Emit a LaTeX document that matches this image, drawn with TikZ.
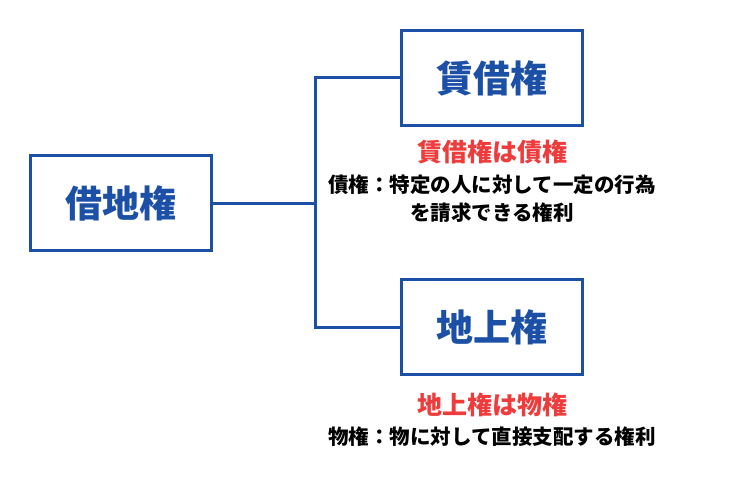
\documentclass[tikz,border=0pt]{standalone}
\usepackage{fontspec}
\setmainfont{Noto Sans CJK JP}
\usetikzlibrary{positioning}
\definecolor{boxblue}{HTML}{1C50A6}
\definecolor{keyred}{HTML}{EE3B3B}
\begin{document}
\begin{tikzpicture}[x=1pt,y=-1pt,
    boxstyle/.style={draw=boxblue, line width=3pt, minimum width=181pt, minimum height=95pt,
        font=\fontsize{37}{40}\selectfont\bfseries, text=boxblue},
    keystyle/.style={font=\fontsize{25}{28}\selectfont\bfseries, text=keyred},
    notestyle/.style={font=\fontsize{20.5}{28}\selectfont\bfseries, align=center, inner sep=0pt},
    linkstyle/.style={draw=boxblue, line width=3pt}
]
\useasboundingbox (0,0) rectangle (750,500);

% Boxes
\node[boxstyle] (root) at (121,203) {借地権};
\node[boxstyle] (lease) at (492,78) {賃借権};
\node[boxstyle] (surface) at (492,327) {地上権};

% Notes
\node[keystyle] (leasekey) at (492,152) {賃借権は債権};
\node[notestyle] (leasenote) at (492,199) {債権：特定の人に対して一定の行為\\を請求できる権利};
\node[keystyle] (surfacekey) at (492,405) {地上権は物権};
\node[notestyle] (surfacenote) at (492,437) {物権：物に対して直接支配する権利};

% Connectors
\coordinate (fork) at (315,203);
\draw[linkstyle] (root.east) -- (fork);
\draw[linkstyle] (lease.west) -| (fork) |- (surface.west);
\end{tikzpicture}
\end{document}
